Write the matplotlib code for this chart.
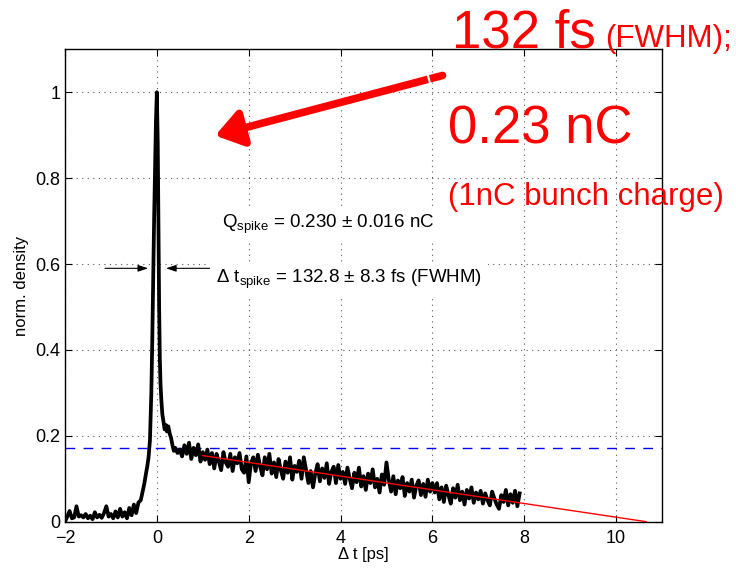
import numpy as np
import matplotlib
matplotlib.use('Agg')
import matplotlib.pyplot as plt

plt.rcParams['font.family'] = ['Liberation Sans', 'DejaVu Sans']
plt.rcParams['mathtext.fontset'] = 'custom'
plt.rcParams['mathtext.rm'] = 'Liberation Sans'
plt.rcParams['mathtext.it'] = 'Liberation Sans:italic'

# --- measured profile (read off the picture) ---
# flat part before the spike, dt = -2.00 ... -0.45 ps
base_t = np.arange(-2.0, -0.449, 0.05)
base_y = [0.000, 0.012, 0.025, 0.008, 0.010, 0.036, 0.012, 0.015, 0.010, 0.018,
          0.008, 0.014, 0.006, 0.022, 0.010, 0.016, 0.009, 0.020, 0.036, 0.012,
          0.018, 0.008, 0.024, 0.010, 0.030, 0.012, 0.022, 0.008, 0.032, 0.015,
          0.040, 0.020]

# the spike itself
spike_t = [-0.40, -0.35, -0.30, -0.27, -0.24, -0.21, -0.18, -0.15, -0.12, -0.10,
           -0.08, -0.06, -0.04, -0.02, 0.00, 0.02, 0.035, 0.05, 0.065, 0.08,
           0.10, 0.12, 0.145, 0.17, 0.20, 0.22, 0.25, 0.28, 0.31, 0.34,
           0.37, 0.40, 0.45, 0.50]
spike_y = [0.045, 0.050, 0.075, 0.090, 0.110, 0.128, 0.150, 0.190, 0.300, 0.420,
           0.560, 0.700, 0.820, 0.930, 1.000, 0.880, 0.700, 0.500, 0.380, 0.320,
           0.280, 0.250, 0.232, 0.215, 0.225, 0.210, 0.222, 0.205, 0.195, 0.178,
           0.165, 0.172, 0.160, 0.168]

# long tail, dt = 0.55 ... 7.90 ps
tail_t = np.arange(0.55, 7.901, 0.05)
tail_y = [0.152, 0.178, 0.158, 0.184, 0.146, 0.172, 0.155, 0.180, 0.140, 0.162,
          0.144, 0.168, 0.134, 0.160, 0.124, 0.158, 0.140, 0.120, 0.162, 0.138,
          0.128, 0.158, 0.118, 0.150, 0.136, 0.160, 0.122, 0.114, 0.152, 0.092,
          0.136, 0.150, 0.118, 0.156, 0.128, 0.108, 0.150, 0.122, 0.158, 0.112,
          0.138, 0.104, 0.146, 0.120, 0.100, 0.140, 0.114, 0.150, 0.098, 0.130,
          0.116, 0.142, 0.100, 0.150, 0.120, 0.090, 0.118, 0.080, 0.112, 0.134,
          0.094, 0.124, 0.102, 0.136, 0.088, 0.116, 0.128, 0.090, 0.132, 0.100,
          0.116, 0.088, 0.126, 0.100, 0.078, 0.114, 0.092, 0.126, 0.082, 0.106,
          0.074, 0.112, 0.090, 0.122, 0.080, 0.100, 0.068, 0.110, 0.086, 0.138,
          0.098, 0.070, 0.106, 0.064, 0.096, 0.078, 0.104, 0.060, 0.090, 0.070,
          0.098, 0.056, 0.084, 0.096, 0.062, 0.088, 0.058, 0.098, 0.070, 0.090,
          0.068, 0.090, 0.052, 0.080, 0.046, 0.084, 0.062, 0.042, 0.078, 0.056,
          0.086, 0.050, 0.070, 0.040, 0.074, 0.054, 0.080, 0.044, 0.068, 0.052,
          0.072, 0.042, 0.066, 0.050, 0.038, 0.070, 0.054, 0.040, 0.030, 0.062,
          0.046, 0.074, 0.038, 0.064, 0.044, 0.072, 0.036, 0.066]

# linear fit of the tail
fit_t = [1.0, 10.66]
fit_y = [0.154, 0.0]

half_max = 0.171     # blue dashed level
fwhm_level = 0.59    # height of the FWHM arrows

t = np.concatenate([base_t, spike_t, tail_t])
y = np.concatenate([base_y, spike_y, tail_y])

fig = plt.figure(figsize=(7.36, 5.69), dpi=100)
ax = fig.add_axes([0.0883, 0.0831, 0.8112, 0.8303])

ax.plot(t, y, 'k', lw=2.7, zorder=3)
ax.plot(fit_t, fit_y, 'r', lw=1.0, zorder=4)
ax.axhline(half_max, color='b', lw=1.0, dashes=(7, 6), zorder=2)

ax.set_xlim(-2, 11)
ax.set_ylim(0, 1.1)
ax.set_xticks([-2, 0, 2, 4, 6, 8, 10])
ax.set_xticklabels(['\u22122', '0', '2', '4', '6', '8', '10'])
ax.set_yticks([0, 0.2, 0.4, 0.6, 0.8, 1.0])
ax.set_yticklabels(['0', '0.2', '0.4', '0.6', '0.8', '1'])
ax.tick_params(direction='in', top=True, right=True, labelsize=13, length=5)
ax.tick_params(axis='x', pad=6)
ax.grid(True, linestyle=(0, (1, 4)), color='0.35', lw=0.8)
for s in ax.spines.values():
    s.set_linewidth(1.0)
ax.set_xlabel('\u0394 t [ps]', fontsize=12, labelpad=0)
ax.set_ylabel('norm. density', fontsize=12, labelpad=4)

# FWHM arrows
ax.annotate('', xy=(-0.19, fwhm_level), xytext=(-1.13, fwhm_level),
            arrowprops=dict(arrowstyle='-|>,head_length=0.6,head_width=0.2',
                            color='k', lw=0.8, shrinkA=0, shrinkB=0))
ax.annotate('', xy=(0.20, fwhm_level), xytext=(1.16, fwhm_level),
            arrowprops=dict(arrowstyle='-|>,head_length=0.6,head_width=0.2',
                            color='k', lw=0.8, shrinkA=0, shrinkB=0))

box = dict(facecolor='white', edgecolor='none', pad=4)
fig.text(222 / 736, 1 - 228 / 569,
         r'Q$_{\rm spike}$ = 0.230 $\pm$ 0.016 nC', fontsize=13.5,
         va='baseline', bbox=box)
fig.text(216 / 736, 1 - 283 / 569,
         r'$\Delta$ t$_{\rm spike}$ = 132.8 $\pm$ 8.3 fs (FWHM)', fontsize=13.5,
         va='baseline', bbox=box)

# big red arrow
ax.annotate('', xy=(1.27, 0.899), xytext=(6.22, 1.039),
            arrowprops=dict(arrowstyle='-|>,head_length=0.8,head_width=0.55',
                            color='red', lw=5.5, shrinkA=0, shrinkB=0,
                            mutation_scale=20), zorder=6)
ax.plot([5.88, 5.97], [1.048, 1.0126], color='white', lw=1.5, zorder=7)

# red comments
fig.text(452 / 736, 1 - 47 / 569, '132 fs', color='red', fontsize=38, va='baseline')
fig.text(605 / 736, 1 - 47 / 569, '(FWHM);', color='red', fontsize=22.5, va='baseline')
fig.text(448 / 736, 1 - 143 / 569, '0.23 nC', color='red', fontsize=38, va='baseline')
fig.text(448 / 736, 1 - 205 / 569, '(1nC bunch charge)', color='red', fontsize=22.5,
         va='baseline')

fig.savefig('out.png', dpi=100)
